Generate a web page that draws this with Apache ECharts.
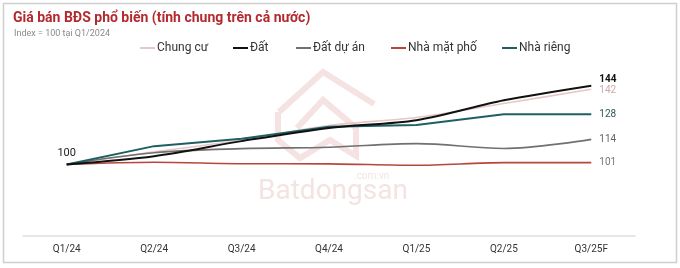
<!DOCTYPE html>
<html><head><meta charset="utf-8">
<script src="https://cdn.jsdelivr.net/npm/echarts@6/dist/echarts.min.js"></script>
<style>html,body{margin:0;padding:0;background:#fff}#c{width:680px;height:268px}</style>
</head><body><div id="c"></div>
<script>
const categories = ['Q1/24','Q2/24','Q3/24','Q4/24','Q1/25','Q2/25','Q3/25F'];
const chungCu   = [100, 107.0, 113.5, 121.7, 126.2, 134.0, 142];
const dat       = [100, 104.6, 113.0, 120.4, 124.7, 135.8, 144];
const datDuAn   = [100, 106.5, 108.8, 109.6, 111.6, 108.9, 114];
const nhaMatPho = [100, 101.2, 100.4, 100.3, 99.5, 101.0, 101];
const nhaRieng  = [100, 110.2, 114.3, 121.0, 122.0, 128, 128];
const seriesNames = ['Chung cư','Đất','Đất dự án','Nhà mặt phố','Nhà riêng'];

const chart = echarts.init(document.getElementById('c'));
const font = 'Roboto, "Noto Sans", sans-serif';
function mk(name, data, color, width, smooth, endColor, endBold, z, dy) {
  return {
    name, type:'line', data, smooth, symbol:'none', z,
    lineStyle:{color, width},
    itemStyle:{color},
    endLabel:{show:true, formatter: p => Math.round(p.value), color:endColor,
      fontSize:10, fontWeight:endBold?'bold':'normal', fontFamily:font, distance:8, offset:[0,dy||0]},
    emphasis:{disabled:true}
  };
}
const series = [
  mk(seriesNames[0], chungCu, '#e6c9c6', 1.6, 0.3, '#c9a9a7', false, 2, 1),
  mk(seriesNames[1], dat, '#111111', 2, 0.3, '#111', true, 5, -6),
  mk(seriesNames[2], datDuAn, '#707070', 1.6, 0.35, '#666', false, 3),
  mk(seriesNames[3], nhaMatPho, '#b9463d', 1.6, 0.3, '#777', false, 3),
  mk(seriesNames[4], nhaRieng, '#1f5f63', 2, false, '#2f5659', false, 4)
];
series[1].markPoint = {
  symbol:'circle', symbolSize:0,
  data:[{coord:[0,100], value:'100'}],
  label:{show:true, position:'top', distance:6, formatter:'100', color:'#222', fontSize:11, fontFamily:font}
};

const legendLefts = [135, 228, 291, 386, 497];
const legends = seriesNames.map((n, i) => ({
  data:[n], left:legendLefts[i], top:37, itemWidth:15, itemHeight:2,
  icon:'rect', textStyle:{color:'#333', fontSize:12, fontFamily:font, padding:[0,0,0,-3]}
}));

chart.setOption({
  animation:false,
  backgroundColor:'#fff',
  title:[
    {text:'Giá bán BĐS phổ biến (tính chung trên cả nước)', left:8, top:6,
     textStyle:{color:'#b22a2e', fontSize:14, fontWeight:'bold', fontFamily:font}},
    {text:'Index = 100 tại Q1/2024', left:9, top:24,
     textStyle:{color:'#8a8a8a', fontSize:9, fontWeight:'normal', fontFamily:font}}
  ],
  legend:legends,
  grid:{left:23, right:45, top:57, bottom:32},
  xAxis:{
    type:'category', data:categories, boundaryGap:true,
    axisLine:{lineStyle:{color:'#dddddd', width:1.5}},
    axisTick:{show:false},
    axisLabel:{color:'#333', fontSize:10, fontFamily:font, margin:8}
  },
  yAxis:{type:'value', min:60, max:160, show:false, splitLine:{show:false}},
  graphic:[
    {type:'rect', shape:{x:3.5, y:3.5, width:673, height:259}, style:{fill:'none', stroke:'#cfcfcf', lineWidth:1.5}, silent:true, z:-10},
    {type:'polyline', shape:{points:[[279,112],[323,72],[374,104]]}, style:{fill:'none', stroke:'#f5e2e2', lineWidth:6}, z:-5, silent:true},
    {type:'polyline', shape:{points:[[297,128],[323,100],[356,128],[356,156],[330,140],[300,158],[278,140],[278,112]]}, style:{fill:'none', stroke:'#f5e2e2', lineWidth:6}, z:-5, silent:true},
    {type:'text', left:258, top:178, style:{text:'Batdongsan', fill:'#f4e3e3', font:'28px Roboto, sans-serif'}, z:-5, silent:true},
    {type:'text', left:354, top:171, style:{text:'.com.vn', fill:'#f4e3e3', font:'10px Roboto, sans-serif'}, z:-5, silent:true}
  ],
  series
});
</script></body></html>
